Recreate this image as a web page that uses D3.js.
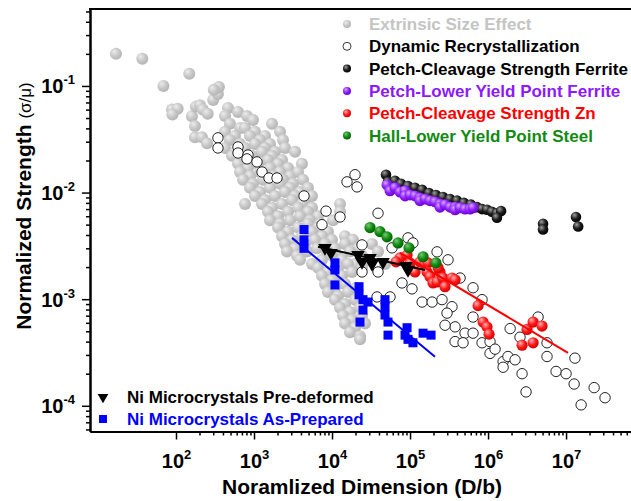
<!DOCTYPE html>
<html>
<head>
<meta charset="utf-8">
<script src="https://cdn.jsdelivr.net/npm/d3@7/dist/d3.min.js"></script>
<style>
  body { margin: 0; background: #fff; }
  svg { display: block; font-family: Arial, "Liberation Sans", sans-serif; }
</style>
</head>
<body>
<svg id="chart" width="631" height="501"></svg>
<script>
// ---- data: [normalized dimension D/b, normalized strength σ/μ] ----
const extrinsicSize = [
  [17, 0.2], [37, 0.18], [148, 0.13], [69, 0.1], [89, 0.06], [105, 0.061], [90, 0.054],
  [160, 0.052], [180, 0.064], [203, 0.066], [220, 0.06], [255, 0.055], [300, 0.074],
  [345, 0.084], [355, 0.098], [305, 0.092], [175, 0.042], [175, 0.033], [215, 0.033], [250, 0.029],
  [464, 0.0622],
  [425, 0.0523], [624, 0.0571], [813, 0.0523],
  [492, 0.0441], [662, 0.0404], [971, 0.048], [1701, 0.0441],
  [425, 0.0371], [570, 0.034], [767, 0.0404], [1030, 0.0371], [1384, 0.034], [2154, 0.0371],
  [492, 0.0312], [662, 0.0286], [889, 0.034], [1194, 0.0312], [1603, 0.0286], [2355, 0.0312],
  [425, 0.0262], [570, 0.0241], [767, 0.0262], [1030, 0.0286], [1384, 0.0262], [1859, 0.0241], [2497, 0.0262],
  [522, 0.0221], [702, 0.0202], [943, 0.0221], [1267, 0.0241], [1701, 0.0221], [2286, 0.0202], [3356, 0.0241],
  [624, 0.0186], [838, 0.017], [1125, 0.0186], [1512, 0.0202], [2032, 0.0186], [2729, 0.017], [4125, 0.0186],
  [662, 0.0156], [889, 0.0143], [1194, 0.0156], [1603, 0.017], [2154, 0.0156], [2895, 0.0143], [3665, 0.0156],
  [723, 0.0132], [971, 0.0121], [1304, 0.0132], [1754, 0.0143], [2355, 0.0132], [3162, 0.0121], [4246, 0.0132],
  [889, 0.0111], [1194, 0.0101], [1603, 0.0111], [2154, 0.0121], [2895, 0.0111], [3888, 0.0101], [4920, 0.0111],
  [1030, 0.0093], [1384, 0.0085], [1859, 0.0093], [2497, 0.0101], [3356, 0.0093], [4505, 0.0085], [5538, 0.0093],
  [767, 0.0078], [1267, 0.0078], [1701, 0.0072], [2286, 0.0078], [3071, 0.0085], [4125, 0.0078], [5538, 0.0072], [12670, 0.0078],
  [1512, 0.0066], [2032, 0.006], [2729, 0.0066], [3665, 0.0072], [4920, 0.0066], [6606, 0.006], [12670, 0.0066],
  [1603, 0.0055], [2154, 0.0051], [2895, 0.0055], [3888, 0.006], [5220, 0.0055], [7009, 0.0051], [10300, 0.0055],
  [2032, 0.0047], [2729, 0.0043], [3665, 0.0047], [4920, 0.0051], [6606, 0.0047], [8871, 0.0043],
  [2286, 0.0039], [3071, 0.0036], [4125, 0.0039], [5538, 0.0043], [7436, 0.0039], [10000, 0.0036], [14680, 0.0039], [18590, 0.0036],
  [2497, 0.0033], [3356, 0.003], [4505, 0.0033], [6049, 0.0036], [8122, 0.0033], [10900, 0.003], [14680, 0.0033], [21540, 0.003], [32580, 0.0033],
  [2649, 0.0028], [3560, 0.00255], [4779, 0.0028], [6417, 0.003], [8616, 0.0028], [11600, 0.00255], [17020, 0.0028], [24240, 0.00255], [38880, 0.0028],
  [3888, 0.00234], [5538, 0.00214], [7436, 0.00234], [10000, 0.00255], [13440, 0.00234], [19720, 0.00214], [28950, 0.00234], [47770, 0.00214],
  [6606, 0.00197], [8871, 0.0018], [11940, 0.00197], [16040, 0.00214], [24240, 0.00197],
  [7436, 0.00166], [10000, 0.00152], [13440, 0.00166], [18050, 0.0018],
  [8122, 0.00139], [10900, 0.00128], [14680, 0.00139],
  [8871, 0.00117], [11940, 0.00107], [16040, 0.00117], [20300, 0.00128],
  [10900, 0.00099], [14680, 0.0009], [19720, 0.00099],
  [12670, 0.00083], [17020, 0.00076], [22850, 0.00083],
  [13840, 0.0007], [18050, 0.00064], [24240, 0.0007],
  [14680, 0.00059], [19720, 0.00054], [26490, 0.00059],
  [17020, 0.00049], [22850, 0.00045],
  [22850, 0.00042]
];

const dynamicRecrystallization = [
  [345, 0.0326], [345, 0.0262], [624, 0.0268], [624, 0.0235], [838, 0.0225], [813, 0.0207],
  [1092, 0.0194], [1267, 0.0156], [1556, 0.0137], [1972, 0.0137], [4375, 0.0093], [8380, 0.0067],
  [7436, 0.005], [12670, 0.0059], [15560, 0.0126], [19720, 0.0147], [20930, 0.0113], [38880, 0.0064],
  [24240, 0.00323], [58780, 0.00303], [94200, 0.00376], [1.09e5, 0.00337], [2.22e5, 0.00278], [3.07e5, 0.00234],
  [24240, 0.0018], [38880, 0.0018], [55400, 0.00105], [37760, 0.00105], [78900, 0.00142], [1.06e5, 0.00125],
  [1.43e5, 0.00094], [1.92e5, 0.00094], [2.57e5, 0.00099], [3.45e5, 0.00085], [4.38e5, 0.00158],
  [6.42e5, 0.00128], [8.38e5, 0.00099], [6.42e5, 0.00068], [2.98e5, 0.00074], [3.78e5, 0.00055],
  [2.81e5, 0.00057], [5.07e5, 0.00048], [6.42e5, 0.00048], [3.78e5, 0.0004], [4.78e5, 0.00039],
  [8.38e5, 0.00039], [1.06e6, 0.0004], [1.06e6, 0.00031], [1.23e6, 0.00034], [1.56e6, 0.00026],
  [1.8e6, 0.00029], [1.56e6, 0.00023], [2.22e6, 0.00027], [1.92e6, 0.00053], [2.57e6, 0.00044],
  [2.73e6, 0.0002], [4.38e6, 0.00068], [5.7e6, 0.00039], [5.7e6, 0.00029], [7.45e6, 0.00021],
  [1.0e7, 0.0002], [1.3e7, 0.00028], [1.27e7, 0.00016], [3.07e6, 0.000135], [1.56e7, 0.000102],
  [2.29e7, 0.000148], [3.16e7, 0.000119]
];

const cleavageFerrite = [
  [49200, 0.0147], [52200, 0.0126], [64200, 0.0129], [76700, 0.0121], [94200, 0.0115], [1.16e5, 0.0111],
  [1.43e5, 0.0106], [1.75e5, 0.0099], [2.15e5, 0.0095], [2.65e5, 0.0091], [3.26e5, 0.0087], [4.01e5, 0.0084],
  [4.92e5, 0.008], [6.05e5, 0.0077], [7.22e5, 0.0073], [8.38e5, 0.007], [9.7e5, 0.0069], [1.12e6, 0.0066],
  [1.3e6, 0.0064], [1.47e6, 0.0067], [1.3e6, 0.0058], [5.07e6, 0.0051], [5.07e6, 0.0045],
  [1.34e7, 0.0059], [1.43e7, 0.0048]
];

const lowerYieldFerrite = [
  [50700, 0.0118], [55400, 0.0104], [64200, 0.0111], [74400, 0.0101], [86300, 0.0104], [86300, 0.0093],
  [1e5, 0.0095], [1.16e5, 0.0093], [1.34e5, 0.0089], [1.34e5, 0.0084], [1.56e5, 0.0087], [1.8e5, 0.0084],
  [2.09e5, 0.0082], [2.42e5, 0.0078], [2.42e5, 0.0073], [2.81e5, 0.0077], [3.26e5, 0.0073], [3.78e5, 0.0073],
  [3.78e5, 0.0069], [4.38e5, 0.0072], [5.07e5, 0.007], [5.88e5, 0.007], [6.42e5, 0.0072]
];

const cleavageZn = [
  [74400, 0.00244], [91600, 0.0026], [66200, 0.00224], [1e5, 0.00219], [1.16e5, 0.0018], [1.34e5, 0.00224],
  [1.56e5, 0.0021], [1.7e5, 0.00219], [1.65e5, 0.0018], [1.8e5, 0.00163], [1.97e5, 0.00142], [2.22e5, 0.00145],
  [2.42e5, 0.0018], [2.29e5, 0.00197], [2.65e5, 0.00158], [2.81e5, 0.00131], [3.45e5, 0.00158], [3.78e5, 0.00152],
  [7.45e5, 0.00087], [8.63e5, 0.00061], [9.7e5, 0.00055], [1.03e6, 0.00047],
  [2.73e6, 0.00037], [3.78e6, 0.00039], [3.16e6, 0.00052], [3.78e6, 0.00061], [4.92e6, 0.00056]
];

const hallLowerYieldSteel = [
  [30700, 0.0047], [41200, 0.0043], [50700, 0.00384], [70100, 0.00337], [97000, 0.00303],
  [1.47e5, 0.0025], [2.15e5, 0.00219]
];

const niPreDeformed = [
  [8120, 0.00303], [9700, 0.00272], [21540, 0.0026], [24240, 0.00224], [30700, 0.00244],
  [32580, 0.00214], [45100, 0.00224], [88900, 0.00205], [94200, 0.00188]
];

const niAsPrepared = [
  [4375, 0.0045], [4375, 0.0036], [4375, 0.003], [10900, 0.00219], [10900, 0.00188], [10900, 0.00136],
  [22200, 0.00131], [22200, 0.0011], [24950, 0.00099], [28950, 0.00094], [24950, 0.00079], [22850, 0.00061],
  [47770, 0.00099], [47770, 0.00085], [47770, 0.00071], [52200, 0.00061], [52200, 0.00046],
  [91600, 0.00054], [86300, 0.00046], [94200, 0.00042], [1.09e5, 0.00039], [1.47e5, 0.00048], [1.86e5, 0.00046]
];

// power-law fit lines (end points)
const fitPreDeformed = [[6620, 0.0031], [1.56e5, 0.00188]];
const fitAsPrepared = [[3070, 0.00376], [2.09e5, 0.000288]];
const fitZn = [[74500, 0.00272], [1.06e7, 0.000314]];

const xMajor = [1e2, 1e3, 1e4, 1e5, 1e6, 1e7];
const yMajor = [1e-4, 1e-3, 1e-2, 1e-1];

const legendTop = [
  { label: "Extrinsic Size Effect", color: "#c4c4c4", fill: "url(#sp-gray)", stroke: "none" },
  { label: "Dynamic Recrystallization", color: "#000", fill: "#fff", stroke: "#222" },
  { label: "Petch-Cleavage Strength Ferrite", color: "#000", fill: "url(#sp-black)", stroke: "none" },
  { label: "Petch-Lower Yield Point Ferrite", color: "#8c1aff", fill: "url(#sp-purple)", stroke: "none" },
  { label: "Petch-Cleavage Strength Zn", color: "#ff0000", fill: "url(#sp-red)", stroke: "none" },
  { label: "Hall-Lower Yield Point Steel", color: "#118a11", fill: "url(#sp-green)", stroke: "none" }
];

// ---- scales ----
const svg = d3.select("#chart");
const x = d3.scaleLog().domain([7.9, 6.8e7]).range([90, 631]);
const y = d3.scaleLog().domain([5.74e-5, 0.527]).range([431.5, 9]);

// ---- shaded sphere gradients ----
const defs = svg.append("defs");
function sphere(id, hi, mid, lo) {
  const g = defs.append("radialGradient").attr("id", id)
    .attr("cx", "0.4").attr("cy", "0.38").attr("r", "0.65").attr("fx", "0.35").attr("fy", "0.3");
  g.append("stop").attr("offset", "0").attr("stop-color", hi);
  g.append("stop").attr("offset", "0.55").attr("stop-color", mid);
  g.append("stop").attr("offset", "1").attr("stop-color", lo);
}
sphere("sp-gray", "#ececec", "#c8c8c8", "#b2b2b2");
sphere("sp-black", "#a0a0a0", "#1c1c1c", "#000000");
sphere("sp-purple", "#d4a8ff", "#8f1fff", "#6a00cc");
sphere("sp-red", "#ffb4b4", "#ff1a1a", "#cc0000");
sphere("sp-green", "#78c878", "#128c12", "#005c00");

// ---- axes ----
function minorTicks(lo, hi) {
  const out = [];
  for (let e = lo; e <= hi; e++) for (let k = 2; k <= 9; k++) out.push(k * Math.pow(10, e));
  return out;
}
const xMinor = minorTicks(2, 7).filter(v => v <= x.domain()[1]);
const yMinor = minorTicks(-5, -1).filter(v => v >= y.domain()[0] && v <= y.domain()[1]);

const axisG = svg.append("g");
axisG.append("g").attr("transform", "translate(0,431.5)")
  .call(d3.axisBottom(x).tickValues(xMinor).tickSize(4).tickFormat("").tickSizeOuter(0));
const xa = axisG.append("g").attr("transform", "translate(0,431.5)")
  .call(d3.axisBottom(x).tickValues(xMajor).tickSize(8).tickSizeOuter(0).tickFormat(""));
axisG.append("g").attr("transform", "translate(90,0)")
  .call(d3.axisLeft(y).tickValues(yMinor).tickSize(4).tickFormat("").tickSizeOuter(0));
const ya = axisG.append("g").attr("transform", "translate(90,0)")
  .call(d3.axisLeft(y).tickValues(yMajor).tickSize(8).tickSizeOuter(0).tickFormat(""));
axisG.selectAll("path.domain").attr("stroke-width", 2).attr("stroke", "#000");
axisG.selectAll(".tick line").attr("stroke-width", 1.5).attr("stroke", "#000");

// top frame line
axisG.append("line").attr("x1", 89).attr("x2", 631).attr("y1", 9).attr("y2", 9)
  .attr("stroke", "#000").attr("stroke-width", 2);

// power-of-ten tick labels
xa.selectAll(".tick").each(function (d) {
  const t = d3.select(this).append("text").attr("y", 36).attr("text-anchor", "middle")
    .attr("fill", "#000").attr("font-weight", "bold").attr("font-size", 20);
  t.append("tspan").text("10");
  t.append("tspan").attr("font-size", 13).attr("dy", -9).text(Math.round(Math.log10(d)));
});
ya.selectAll(".tick").each(function (d) {
  const t = d3.select(this).append("text").attr("x", -15).attr("y", 7).attr("text-anchor", "end")
    .attr("fill", "#000").attr("font-weight", "bold").attr("font-size", 20);
  t.append("tspan").text("10");
  t.append("tspan").attr("font-size", 13).attr("dy", -9).text("-" + Math.abs(Math.round(Math.log10(d))));
});

// axis titles
svg.append("text").attr("x", 362).attr("y", 494).attr("text-anchor", "middle")
  .attr("font-weight", "bold").attr("font-size", 21).text("Noramlized Dimension (D/b)");
const yt = svg.append("text").attr("transform", "translate(31,206) rotate(-90)")
  .attr("text-anchor", "middle").attr("font-weight", "bold").attr("font-size", 21);
yt.append("tspan").text("Normalized Strength ");
yt.append("tspan").attr("font-weight", "normal").attr("font-size", 17).text("(σ/μ)");

// ---- marks ----
const plot = svg.append("g");
function spheres(data, fill, r) {
  plot.append("g").selectAll("circle").data(data).join("circle")
    .attr("cx", d => x(d[0])).attr("cy", d => y(d[1])).attr("r", r).attr("fill", fill);
}
spheres(extrinsicSize, "url(#sp-gray)", 6);

plot.append("g").selectAll("circle").data(dynamicRecrystallization).join("circle")
  .attr("cx", d => x(d[0])).attr("cy", d => y(d[1])).attr("r", 5.2)
  .attr("fill", "#fff").attr("stroke", "#222").attr("stroke-width", 1);

spheres(cleavageFerrite, "url(#sp-black)", 5.3);
spheres(lowerYieldFerrite, "url(#sp-purple)", 5.5);
spheres(cleavageZn, "url(#sp-red)", 5.6);
spheres(hallLowerYieldSteel, "url(#sp-green)", 5.6);

const line = d3.line().x(d => x(d[0])).y(d => y(d[1]));
plot.append("path").attr("d", line(fitZn)).attr("stroke", "#ff0000").attr("stroke-width", 2).attr("fill", "none");

const tri = d3.symbol().type(d3.symbolTriangle).size(80);
plot.append("g").selectAll("path").data(niPreDeformed).join("path")
  .attr("d", tri).attr("fill", "#000")
  .attr("transform", d => `translate(${x(d[0])},${y(d[1])}) rotate(180)`);
plot.append("path").attr("d", line(fitPreDeformed)).attr("stroke", "#000").attr("stroke-width", 2).attr("fill", "none");

plot.append("g").selectAll("rect").data(niAsPrepared).join("rect")
  .attr("x", d => x(d[0]) - 4.5).attr("y", d => y(d[1]) - 4.5)
  .attr("width", 9).attr("height", 9).attr("fill", "#0000ff");
plot.append("path").attr("d", line(fitAsPrepared)).attr("stroke", "#0000ff").attr("stroke-width", 2).attr("fill", "none");

// ---- legends ----
const lg = svg.append("g");
legendTop.forEach((e, i) => {
  const base = 30 + i * 22.3;
  lg.append("circle").attr("cx", 347).attr("cy", base - 6).attr("r", 4)
    .attr("fill", e.fill).attr("stroke", e.stroke).attr("stroke-width", 0.9);
  lg.append("text").attr("x", 369).attr("y", base).attr("fill", e.color)
    .attr("font-weight", "bold").attr("font-size", 17).text(e.label);
});

lg.append("path").attr("d", d3.symbol().type(d3.symbolTriangle).size(50)())
  .attr("transform", "translate(103,397) rotate(180)").attr("fill", "#000");
lg.append("text").attr("x", 127).attr("y", 403).attr("font-weight", "bold").attr("font-size", 17)
  .attr("fill", "#000").text("Ni Microcrystals Pre-deformed");
lg.append("rect").attr("x", 99).attr("y", 415).attr("width", 8).attr("height", 8).attr("fill", "#0000ff");
lg.append("text").attr("x", 127).attr("y", 425).attr("font-weight", "bold").attr("font-size", 17)
  .attr("fill", "#0000ff").text("Ni Microcrystals As-Prepared");
</script>
</body>
</html>
